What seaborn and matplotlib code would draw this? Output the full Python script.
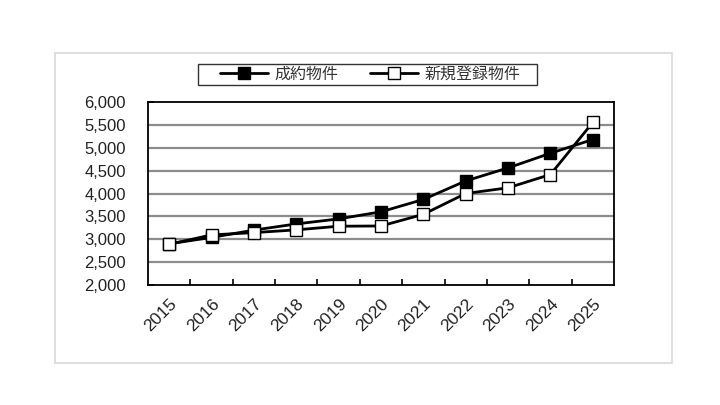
import matplotlib
matplotlib.use('Agg')
import matplotlib.pyplot as plt
import matplotlib.ticker as mticker
from matplotlib.patches import Rectangle
from matplotlib.lines import Line2D
import pandas as pd
import seaborn as sns

# 年次データ
years = ['2015', '2016', '2017', '2018', '2019', '2020', '2021', '2022', '2023', '2024', '2025']
seiyaku = [2900, 3040, 3200, 3335, 3445, 3600, 3870, 4275, 4560, 4880, 5180]
shinki = [2890, 3095, 3145, 3205, 3285, 3290, 3545, 4000, 4125, 4415, 5555]
labels = ['成約物件', '新規登録物件']

sns.set_theme(style='white')
plt.rcParams['font.family'] = ['Liberation Sans', 'Noto Sans CJK JP', 'DejaVu Sans']

df = pd.DataFrame({'year': years, 'seiyaku': seiyaku, 'shinki': shinki})

fig = plt.figure(figsize=(7.2, 4.05), dpi=100)
fig.patch.set_facecolor('white')
# 外枠
fig.patches.append(Rectangle((55 / 720, 1 - 363 / 405), 617 / 720, 310 / 405,
                             transform=fig.transFigure, fill=False,
                             edgecolor='#d9d9d9', linewidth=1.2))
# 凡例の枠
fig.patches.append(Rectangle((198 / 720, 1 - 85 / 405), 339 / 720, 21 / 405,
                             transform=fig.transFigure, fill=False,
                             edgecolor='#333333', linewidth=1.0))

ax = fig.add_axes([148 / 720, 1 - 285 / 405, 466 / 720, 183 / 405])

sns.lineplot(data=df, x='year', y='seiyaku', ax=ax, color='black', linewidth=2,
             marker='s', markersize=9, markerfacecolor='black',
             markeredgecolor='black', markeredgewidth=1, zorder=3)
sns.lineplot(data=df, x='year', y='shinki', ax=ax, color='black', linewidth=2,
             marker='s', markersize=9, markerfacecolor='white',
             markeredgecolor='black', markeredgewidth=1, zorder=4)

ax.set_xlim(-0.5, len(years) - 0.5)
ax.set_ylim(2000, 6000)
ax.yaxis.set_major_locator(mticker.MultipleLocator(500))
ax.yaxis.set_major_formatter(mticker.FuncFormatter(lambda v, p: f'{int(v):,}'))
for v in range(2500, 6000, 500):
    ax.axhline(v, color='#8c8c8c', linewidth=1.6, zorder=1)

ax.set_xticks(range(len(years)))
ax.set_xticklabels(years, rotation=45, ha='right', rotation_mode='anchor')
ax.set_xticks([i + 0.5 for i in range(len(years) - 1)], minor=True)
ax.tick_params(axis='x', which='major', length=0, pad=8, labelsize=12.5, labelcolor='#222222')
ax.tick_params(axis='x', which='minor', direction='in', length=4, width=1.2,
               color='black', bottom=True)
ax.tick_params(axis='y', direction='in', length=4, width=1.2, color='black',
               left=True, labelsize=12, pad=16, labelcolor='#222222')
ax.set_xlabel('')
ax.set_ylabel('')
for s in ax.spines.values():
    s.set_color('black')
    s.set_linewidth(1.3)

handles = [
    Line2D([], [], color='black', linewidth=2, marker='s', markersize=8,
           markerfacecolor='black', markeredgecolor='black'),
    Line2D([], [], color='black', linewidth=2, marker='s', markersize=8,
           markerfacecolor='white', markeredgecolor='black'),
]
fig.legend(handles, labels, loc='center', bbox_to_anchor=(370 / 720, 1 - 74.5 / 405),
           ncol=2, frameon=False, handlelength=3.0,
           columnspacing=2.0, borderpad=0.2, handletextpad=0.4,
           prop={'family': ['Noto Sans CJK JP'], 'size': 11.5},
           labelcolor='#333333')

fig.savefig('out.png', dpi=100, facecolor='white')
